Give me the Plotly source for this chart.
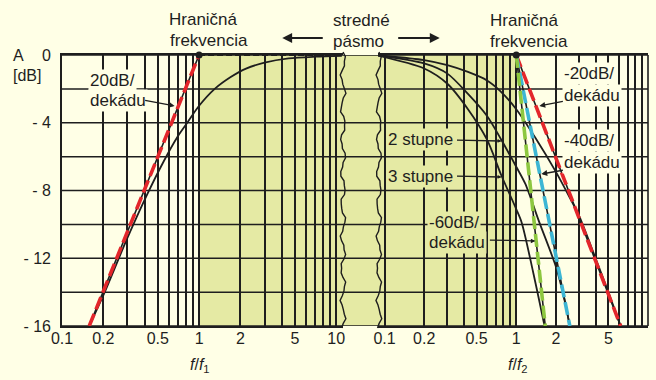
import math
import plotly.graph_objects as go

# ---------------- data ----------------
# left panel: f/f1, single-stage high-pass
hp_f = [0.158, 0.2, 0.3, 0.42, 0.55, 0.7, 0.82, 1.0, 1.3, 1.7, 2.2, 3.0, 4.5, 7.0, 11.0]
hp_db = [-16.0, -14.2, -10.8, -8.2, -6.3, -4.8, -4.0, -3.0, -2.0, -1.3, -0.8, -0.45, -0.2, -0.1, -0.05]
hp_asym_f = [0.158, 1.0]
hp_asym_db = [-16.0, 0.0]
hp_flat_f = [1.0, 11.0]
hp_flat_db = [0.0, 0.0]

# right panel: f/f2, low-pass with 1, 2 and 3 stages
lp1_f = [0.085, 0.2, 0.3, 0.43, 0.6, 0.75, 1.0, 1.4, 2.0, 2.5, 3.0, 4.0, 5.0, 6.2]
lp1_db = [0.0, -0.3, -0.6, -1.0, -1.5, -2.1, -3.2, -4.9, -6.9, -8.3, -9.5, -12.0, -14.0, -16.0]
lp2_f = [0.085, 0.2, 0.3, 0.43, 0.6, 0.77, 1.0, 1.17, 1.5, 2.0, 2.3, 2.55]
lp2_db = [0.0, -0.5, -1.1, -2.3, -3.6, -5.0, -6.6, -7.6, -9.9, -12.5, -14.3, -16.0]
lp3_f = [0.085, 0.2, 0.3, 0.43, 0.6, 0.77, 1.0, 1.1, 1.35, 1.64]
lp3_db = [0.0, -0.8, -1.7, -3.2, -5.0, -7.1, -9.1, -9.9, -12.9, -16.0]

asym_db = [0.0, -16.0]
asym20_f = [1.0, 6.2]
asym40_f = [1.0, 2.55]
asym60_f = [1.0, 1.66]
corner_f = [1.0]
corner_db = [0.0]

x_tickvals = [0.1, 0.2, 0.3, 0.4, 0.5, 0.6, 0.7, 0.8, 0.9, 1, 2, 3, 4, 5, 6, 7, 8, 9, 10]
x_ticktext = ["0.1", "0.2", "", "", "0.5", "", "", "", "", "1", "2", "", "", "5", "", "", "", "", "10"]
y_tickvals = [0, -4, -8, -12, -16]
y_ticktext = ["0", "- 4", "- 8", "- 12", "- 16"]
y_grid = [0, -2, -4, -6, -8, -10, -12, -14, -16]

# ---------------- style ----------------
BG = "#FFFFE6"
SHADE = "#E5EAA4"
INK = "#1E1E1E"
RED = "#E3262B"
BLUE = "#3DB6D4"
GREEN = "#8DC73F"
FONT = "Liberation Sans, Arial, sans-serif"

W, H = 656, 380
L, R, T, B = 62, 650, 55, 326


def pxx(x):
    return (x - L) / (R - L)


def pyy(y):
    return (B - y) / (B - T)


XD1 = [0.0, pxx(344)]
XD2 = [pxx(379), 1.0]
XR1 = [-1.0, 1.05]
XR2 = [-1.05, 1.0]


def to_paper(val, dom, rng):
    return dom[0] + (math.log10(val) - rng[0]) / (rng[1] - rng[0]) * (dom[1] - dom[0])


fig = go.Figure()

# left panel
fig.add_trace(go.Scatter(x=hp_f, y=hp_db, mode="lines", line=dict(color=INK, width=1.8, shape="spline", smoothing=0.8),
                         xaxis="x", yaxis="y", hoverinfo="skip"))
fig.add_trace(go.Scatter(x=hp_asym_f, y=hp_asym_db, mode="lines", line=dict(color=INK, width=1.6),
                         xaxis="x", yaxis="y", hoverinfo="skip"))
fig.add_trace(go.Scatter(x=hp_asym_f, y=hp_asym_db, mode="lines", line=dict(color=RED, width=3.6, dash="13px,5px"),
                         xaxis="x", yaxis="y", hoverinfo="skip"))
fig.add_trace(go.Scatter(x=hp_flat_f, y=hp_flat_db, mode="lines", line=dict(color=INK, width=2.2, dash="6px,3px"),
                         xaxis="x", yaxis="y", hoverinfo="skip"))
fig.add_trace(go.Scatter(x=corner_f, y=corner_db, mode="markers", marker=dict(color=INK, size=7),
                         cliponaxis=False, xaxis="x", yaxis="y", hoverinfo="skip"))

# right panel
for fx, fy in [(lp1_f, lp1_db), (lp2_f, lp2_db), (lp3_f, lp3_db)]:
    fig.add_trace(go.Scatter(x=fx, y=fy, mode="lines", line=dict(color=INK, width=1.8, shape="spline", smoothing=0.8),
                             xaxis="x2", yaxis="y", hoverinfo="skip"))
for fx, col in [(asym20_f, RED), (asym40_f, BLUE), (asym60_f, GREEN)]:
    fig.add_trace(go.Scatter(x=fx, y=asym_db, mode="lines", line=dict(color=INK, width=1.6),
                             xaxis="x2", yaxis="y", hoverinfo="skip"))
    fig.add_trace(go.Scatter(x=fx, y=asym_db, mode="lines", line=dict(color=col, width=3.6, dash="13px,5px"),
                             xaxis="x2", yaxis="y", hoverinfo="skip"))
fig.add_trace(go.Scatter(x=corner_f, y=corner_db, mode="markers", marker=dict(color=INK, size=7),
                         cliponaxis=False, xaxis="x2", yaxis="y", hoverinfo="skip"))

# ---------------- shapes ----------------
shapes = []
# pass-band shading: from f/f1 = 1 to f/f2 = 1
shapes.append(dict(type="rect", xref="paper", yref="y", x0=to_paper(1, XD1, XR1), x1=to_paper(1, XD2, XR2),
                   y0=-16, y1=0, fillcolor=SHADE, line=dict(width=0), layer="below"))
# horizontal grid across both panels
for g in y_grid:
    shapes.append(dict(type="line", xref="paper", yref="y", x0=0, x1=1, y0=g, y1=g,
                       line=dict(color=INK, width=1.5), layer="below"))
# right border
shapes.append(dict(type="line", xref="paper", yref="paper", x0=1, x1=1, y0=0, y1=1,
                   line=dict(color=INK, width=1.6), layer="below"))


def wave_path(xc):
    n = 60
    pts = []
    for i in range(n + 1):
        ypix = 52 + i * (328 - 52) / n
        xpix = xc + 2.2 * math.sin(i * 0.9) + 0.8 * math.sin(i * 2.3)
        pts.append((pxx(xpix), pyy(ypix)))
    return "M " + " L ".join(f"{a:.5f},{b:.5f}" for a, b in pts)


for xc in (344, 380):
    shapes.append(dict(type="path", xref="paper", yref="paper", path=wave_path(xc),
                       line=dict(color=INK, width=1.4), layer="above"))

# ---------------- annotations ----------------
ann = []


def text(t, x, y, xanchor="center", size=17, bg=None):
    d = dict(text=t, x=pxx(x), y=pyy(y), xref="paper", yref="paper", xanchor=xanchor, yanchor="middle",
             showarrow=False, font=dict(size=size, color=INK, family=FONT))
    if bg:
        d["bgcolor"] = bg
        d["borderpad"] = 1
    ann.append(d)


def arrow(xh, yh, xt, yt, size=0.9, width=1.3, head=2):
    ann.append(dict(text="", x=pxx(xh), y=pyy(yh), xref="paper", yref="paper", ax=xt - xh, ay=yt - yh,
                    axref="pixel", ayref="pixel", showarrow=True, arrowhead=head, arrowsize=size,
                    arrowwidth=width, arrowcolor=INK, standoff=0))


text("A", 18, 55, size=16)
text("[dB]", 27, 75, size=16)

text("Hraničná", 204, 20)
text("frekvencia", 209, 40)
text("stredné", 363, 21)
text("pásmo", 360, 41)
text("Hraničná", 526, 21)
text("frekvencia", 531, 41)
arrow(283, 38, 325, 38, size=1.1, width=1.8)
arrow(441, 38, 398, 38, size=1.1, width=1.8)

text("20dB/", 88, 80, xanchor="left", bg=BG)
text("dekádu", 88, 100, xanchor="left", bg=BG)
arrow(175, 106, 144, 100)

text("-20dB/", 564, 73, xanchor="left", bg=BG)
text("dekádu", 564, 96, xanchor="left", bg=BG)
arrow(541, 106, 566, 101)

text("-40dB/", 564, 140, xanchor="left", bg=BG)
text("dekádu", 564, 162, xanchor="left", bg=BG)
arrow(543, 174, 566, 170)

text("2 stupne", 387, 139, xanchor="left", bg=SHADE)
arrow(503, 141, 457, 140, size=0.6)
text("3 stupne", 387, 176, xanchor="left", bg=SHADE)
arrow(503, 177, 457, 176, size=0.6)

text("-60dB/", 428, 222, xanchor="left", bg=SHADE)
text("dekádu", 428, 243, xanchor="left", bg=SHADE)
arrow(537, 241, 490, 240, size=0.7)

text("<i>f</i>/<i>f</i><sub>1</sub>", 200, 365, size=16)
text("<i>f</i>/<i>f</i><sub>2</sub>", 520, 365, size=16)

# ---------------- axes ----------------
xcommon = dict(type="log", tickmode="array", tickvals=x_tickvals, ticktext=x_ticktext,
               showgrid=True, gridcolor=INK, gridwidth=1.6, zeroline=False,
               showline=True, linecolor=INK, linewidth=1.6, mirror=True, ticks="",
               tickfont=dict(size=16, color=INK, family=FONT), ticklabelstandoff=-3)

fig.update_layout(
    width=W, height=H, autosize=False,
    margin=dict(l=L, r=W - R, t=T, b=H - B, pad=0),
    paper_bgcolor=BG, plot_bgcolor="rgba(0,0,0,0)",
    showlegend=False,
    xaxis=dict(domain=XD1, range=XR1, anchor="y", **xcommon),
    xaxis2=dict(domain=XD2, range=XR2, anchor="y", **xcommon),
    yaxis=dict(range=[-16, 0], tickmode="array", tickvals=y_tickvals, ticktext=y_ticktext,
               showgrid=False, zeroline=False, showline=True, linecolor=INK, linewidth=1.6,
               ticks="", tickfont=dict(size=16, color=INK, family=FONT), ticklabelstandoff=6,
               anchor="x"),
    shapes=shapes,
    annotations=ann,
)

fig.write_html("out.html")
